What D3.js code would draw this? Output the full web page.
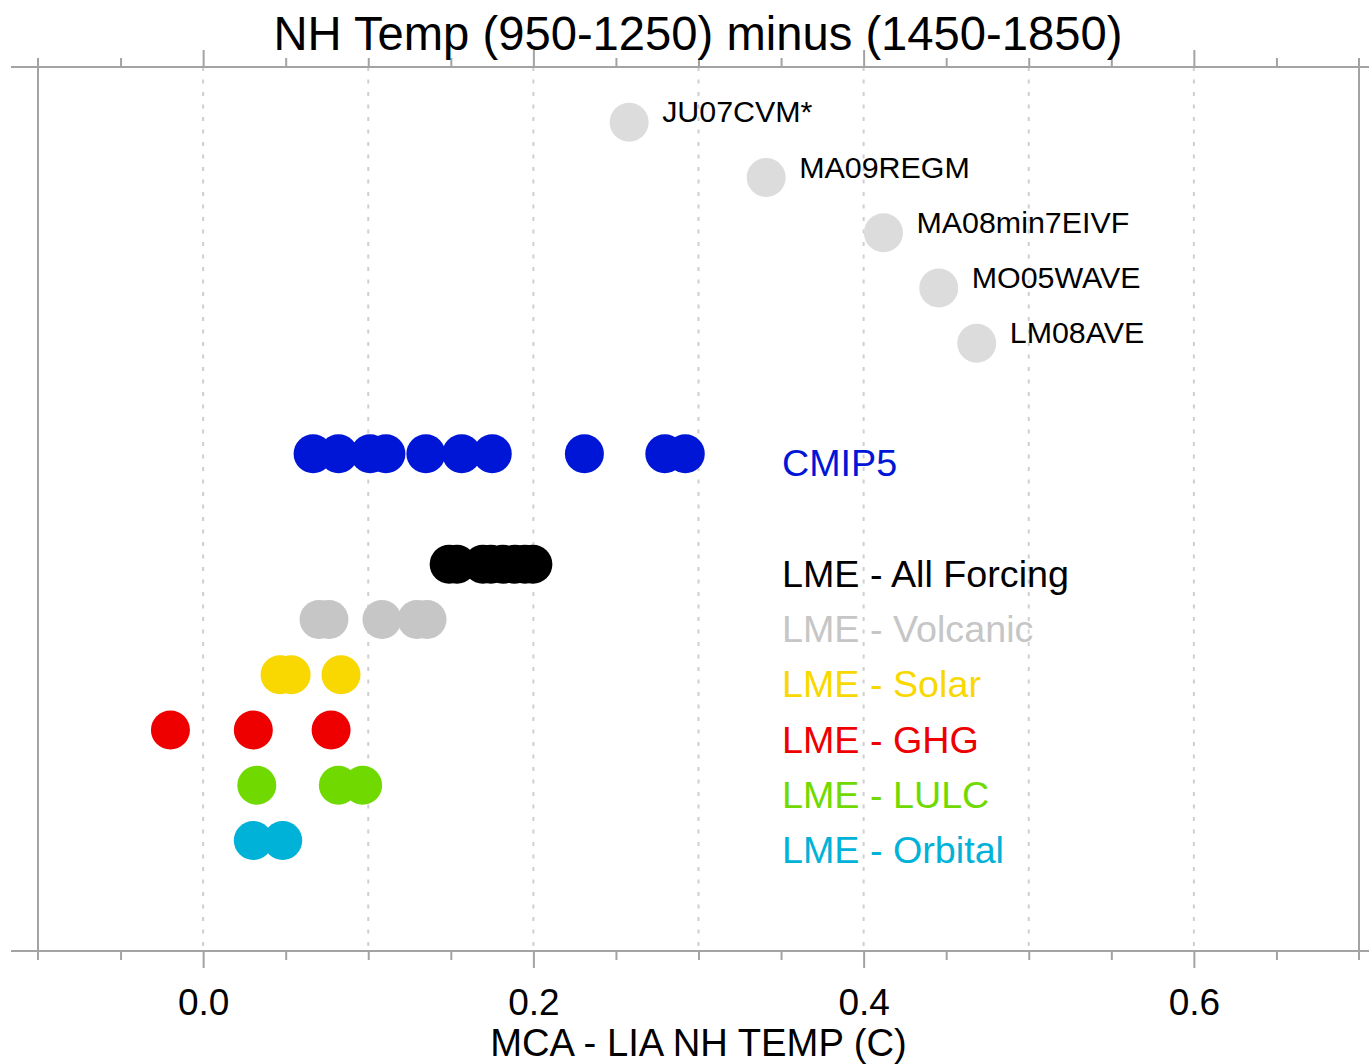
<!DOCTYPE html>
<html>
<head>
<meta charset="utf-8">
<script src="https://cdn.jsdelivr.net/npm/d3@7"></script>
<style>
html,body{margin:0;padding:0;background:#fff;}
svg{display:block;font-family:"Liberation Sans",Arial,Helvetica,sans-serif;}
</style>
</head>
<body>
<svg id="chart" width="1369" height="1064"></svg>
<script>
// ---- data ----
const reconNames  = ["JU07CVM*", "MA09REGM", "MA08min7EIVF", "MO05WAVE", "LM08AVE"];
const reconValues = [0.258, 0.341, 0.412, 0.4455, 0.4685];
const reconRows   = [0, 1, 2, 3, 4];

const groupLabels = ["CMIP5", "LME - All Forcing", "LME - Volcanic", "LME - Solar", "LME - GHG", "LME - LULC", "LME - Orbital"];
const groupRows   = [6, 8, 9, 10, 11, 12, 13];
const groupColors = ["#0016d6", "#000000", "#c6c6c6", "#f8d800", "#ee0000", "#70da00", "#00b2d8"];

const cmip5Values    = [0.0666, 0.0820, 0.1011, 0.1107, 0.1349, 0.1566, 0.1751, 0.2309, 0.2796, 0.2920];
const lmeAllValues   = [0.1490, 0.1537, 0.1694, 0.1743, 0.1815, 0.1888, 0.1949, 0.1997];
const lmeVolcValues  = [0.0702, 0.0762, 0.1083, 0.1295, 0.1356];
const lmeSolarValues = [0.0466, 0.0533, 0.0835];
const lmeGhgValues   = [-0.0198, 0.0304, 0.0775];
const lmeLulcValues  = [0.0325, 0.0819, 0.0966];
const lmeOrbValues   = [0.0304, 0.0482];
const groupValues = [cmip5Values, lmeAllValues, lmeVolcValues, lmeSolarValues, lmeGhgValues, lmeLulcValues, lmeOrbValues];

const majorTicks = [0.0, 0.2, 0.4, 0.6];
const minorTicks = [-0.05, 0.05, 0.1, 0.15, 0.25, 0.3, 0.35, 0.45, 0.5, 0.55, 0.65];
const gridTicks  = [0.0, 0.1, 0.2, 0.3, 0.4, 0.5, 0.6];

const titleText = "NH Temp (950-1250) minus (1450-1850)";
const xAxisTitle = "MCA - LIA NH TEMP (C)";

// ---- layout ----
const plotL = 38, plotR = 1359, plotT = 67, plotB = 951;
const x = d3.scaleLinear().domain([-0.1, 0.7]).range([plotL, plotR]);
const y = d3.scaleLinear().domain([-1, 15]).range([plotT, plotB]);
const r = 19.5;
const axisColor = "#a3a3a3";

const svg = d3.select("#chart");

// gridlines
svg.append("g").selectAll("line").data(gridTicks).join("line")
  .attr("x1", d => x(d)).attr("x2", d => x(d))
  .attr("y1", plotT).attr("y2", plotB)
  .attr("stroke", "#cfcfcf").attr("stroke-width", 2)
  .attr("stroke-dasharray", "4,8.5");

// frame
const frame = svg.append("g").attr("stroke", axisColor).attr("stroke-width", 2);
frame.append("line").attr("x1", 11).attr("x2", 1369).attr("y1", plotT).attr("y2", plotT);
frame.append("line").attr("x1", 11).attr("x2", 1369).attr("y1", plotB).attr("y2", plotB);
frame.append("line").attr("x1", plotL).attr("x2", plotL).attr("y1", plotT - 9).attr("y2", plotB + 9);
frame.append("line").attr("x1", plotR).attr("x2", plotR).attr("y1", plotT - 9).attr("y2", plotB + 9);

// axes (ticks outward)
const topAxisMajor = d3.axisTop(x).tickValues(majorTicks).tickSize(17).tickFormat("");
const topAxisMinor = d3.axisTop(x).tickValues(minorTicks).tickSize(9).tickFormat("");
const bottomAxisMajor = d3.axisBottom(x).tickValues(majorTicks).tickSize(17).tickFormat(d3.format(".1f"));
const bottomAxisMinor = d3.axisBottom(x).tickValues(minorTicks).tickSize(9).tickFormat("");

function styleAxis(g) {
  g.select(".domain").remove();
  g.selectAll(".tick line").attr("stroke", axisColor).attr("stroke-width", 2);
}
svg.append("g").attr("transform", `translate(0,${plotT})`).call(topAxisMajor).call(styleAxis);
svg.append("g").attr("transform", `translate(0,${plotT})`).call(topAxisMinor).call(styleAxis);
svg.append("g").attr("transform", `translate(0,${plotB})`).call(bottomAxisMinor).call(styleAxis);
const bAx = svg.append("g").attr("transform", `translate(0,${plotB})`).call(bottomAxisMajor).call(styleAxis);
bAx.selectAll(".tick text")
  .attr("font-family", "Liberation Sans, Arial, sans-serif")
  .attr("font-size", 37).attr("fill", "#000")
  .attr("dy", null).attr("y", 64);

// reconstruction dots
svg.append("g").selectAll("circle").data(reconValues).join("circle")
  .attr("cx", d => x(d)).attr("cy", (d, i) => y(reconRows[i]))
  .attr("r", r).attr("fill", "#dcdcdc");
svg.append("g").selectAll("text").data(reconNames).join("text")
  .attr("x", (d, i) => x(reconValues[i]) + 33)
  .attr("y", (d, i) => y(reconRows[i]))
  .attr("font-size", 30.4).attr("fill", "#000")
  .text(d => d);

// model groups
groupValues.forEach((vals, gi) => {
  svg.append("g").selectAll("circle").data(vals).join("circle")
    .attr("cx", d => x(d)).attr("cy", y(groupRows[gi]))
    .attr("r", r).attr("fill", groupColors[gi]);
});
svg.append("g").selectAll("text").data(groupLabels).join("text")
  .attr("x", 782)
  .attr("y", (d, i) => y(groupRows[i]) + 22.5)
  .attr("font-size", 37.7)
  .attr("fill", (d, i) => groupColors[i])
  .text(d => d);

// titles
svg.append("text").attr("x", 698).attr("y", 50)
  .attr("text-anchor", "middle").attr("font-size", 47.2).attr("fill", "#000")
  .text(titleText);
svg.append("text").attr("x", 698.5).attr("y", 1056)
  .attr("text-anchor", "middle").attr("font-size", 38.2).attr("fill", "#000")
  .text(xAxisTitle);
</script>
</body>
</html>
